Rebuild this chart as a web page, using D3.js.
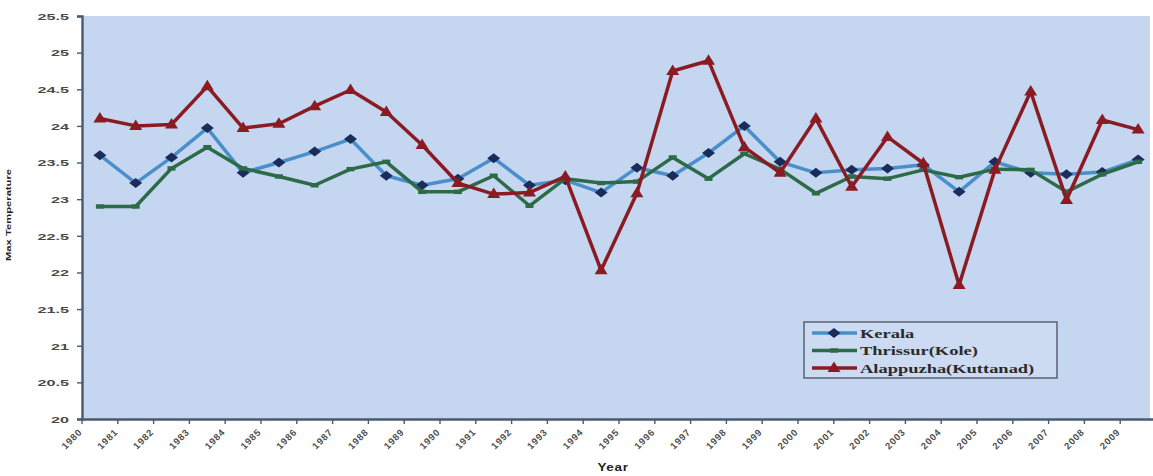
<!DOCTYPE html>
<html>
<head>
<meta charset="utf-8">
<script src="https://cdn.jsdelivr.net/npm/d3@7"></script>
<style>
  html, body { margin: 0; padding: 0; background: #ffffff; }
  svg { display: block; }
</style>
</head>
<body>
<svg id="chart" width="1153" height="476"></svg>
<script>
// Annual maximum temperature, 1980-2009
const years = d3.range(1980, 2010);
const kerala = [23.60, 23.22, 23.57, 23.97, 23.36, 23.50, 23.65, 23.82, 23.32, 23.19,
                23.28, 23.56, 23.19, 23.26, 23.09, 23.43, 23.32, 23.63, 24.00, 23.51,
                23.36, 23.40, 23.42, 23.47, 23.10, 23.51, 23.36, 23.34, 23.37, 23.54];
const thrissur = [22.90, 22.90, 23.42, 23.71, 23.42, 23.31, 23.19, 23.41, 23.51, 23.10,
                  23.10, 23.32, 22.91, 23.28, 23.22, 23.24, 23.57, 23.28, 23.62, 23.41,
                  23.08, 23.31, 23.28, 23.40, 23.30, 23.41, 23.40, 23.10, 23.34, 23.51];
const alappuzha = [24.10, 24.00, 24.02, 24.54, 23.97, 24.03, 24.27, 24.49, 24.19, 23.74,
                   23.22, 23.07, 23.09, 23.31, 22.03, 23.08, 24.75, 24.89, 23.71, 23.36,
                   24.10, 23.17, 23.85, 23.49, 21.83, 23.40, 24.47, 22.99, 24.08, 23.95];
const seriesNames = ["Kerala", "Thrissur(Kole)", "Alappuzha(Kuttanad)"];
const yTicks = d3.range(20, 25.51, 0.5);

const seriesValues = [kerala, thrissur, alappuzha];
const lineColors = ["#4b8fca", "#2d6a48", "#8a1b22"];
const markerColors = ["#1a2c5a", "#2d6a48", "#8a1b22"];
const markerShapes = ["diamond", "square", "triangle"];

const svg = d3.select("#chart");
const W = 1153, H = 476;
const plot = { left: 82, right: 1156, top: 16, bottom: 419 };

const x = d3.scaleBand().domain(years).range([plot.left, plot.right]);
const y = d3.scaleLinear().domain([20, 25.5]).range([plot.bottom, plot.top]);

// plot area background
svg.append("rect")
  .attr("x", plot.left).attr("y", plot.top)
  .attr("width", W - plot.left - 3).attr("height", plot.bottom - plot.top)
  .attr("fill", "#c5d6f0");

// y axis
const yAxis = svg.append("g")
  .attr("transform", `translate(${plot.left},0)`)
  .call(d3.axisLeft(y).tickValues(yTicks).tickSize(5).tickFormat(d => String(d)));
yAxis.select(".domain").attr("stroke", "#4a5a6e").attr("stroke-width", 2.4);
yAxis.selectAll(".tick line").attr("stroke", "#4a5a6e").attr("stroke-width", 1.4);
yAxis.selectAll(".tick text")
  .attr("x", 0).attr("dy", "0.35em")
  .attr("transform", "translate(-13,0) scale(1.7,1)")
  .attr("text-anchor", "end")
  .attr("font-family", "Liberation Sans, Arial, sans-serif")
  .attr("font-weight", "bold")
  .attr("font-size", "9.5px")
  .attr("fill", "#4a4a4a");

// x axis line and ticks on band boundaries
const xAxis = svg.append("g")
  .attr("transform", `translate(0,${plot.bottom})`)
  .call(d3.axisBottom(x).tickSize(0).tickFormat(""));
xAxis.select(".domain").attr("stroke", "#4a5a6e").attr("stroke-width", 2.4);
svg.append("g").selectAll("line")
  .data(years)
  .join("line")
  .attr("x1", d => x(d)).attr("x2", d => x(d))
  .attr("y1", plot.bottom).attr("y2", plot.bottom + 5)
  .attr("stroke", "#4a5a6e").attr("stroke-width", 1.4);

// slanted year labels
const labelG = svg.append("g");
years.forEach(yr => {
  labelG.append("g")
    .attr("transform", `translate(${x(yr) - 4},${plot.bottom + 9})`)
    .append("text")
    .attr("transform", "rotate(-45)")
    .attr("text-anchor", "end")
    .attr("dy", "0.7em")
    .attr("font-family", "Liberation Sans, Arial, sans-serif")
    .attr("font-weight", "bold")
    .attr("font-size", "9.5px")
    .attr("letter-spacing", "0.8px")
    .attr("fill", "#505050")
    .text(yr);
});

// axis titles
svg.append("text")
  .attr("transform", `translate(613,471) scale(1.35,1)`)
  .attr("text-anchor", "middle")
  .attr("font-family", "Liberation Sans, Arial, sans-serif")
  .attr("font-weight", "bold")
  .attr("font-size", "10px")
  .attr("letter-spacing", "0.5px")
  .attr("fill", "#222")
  .text("Year");
svg.append("text")
  .attr("transform", `translate(11,215) rotate(-90) scale(1.5,1)`)
  .attr("text-anchor", "middle")
  .attr("font-family", "Liberation Sans, Arial, sans-serif")
  .attr("font-weight", "bold")
  .attr("font-size", "7.5px")
  .attr("fill", "#222")
  .text("Max Temperature");

// marker paths
function markerPath(shape) {
  if (shape === "diamond") return "M0,-5 L6.5,0 L0,5 L-6.5,0 Z";
  if (shape === "square") return "M-4,-2.2 L4,-2.2 L4,2.2 L-4,2.2 Z";
  return "M0,-6.5 L6.5,4 L-6.5,4 Z";
}

const line = d3.line()
  .x((d, i) => x(years[i]) + x.bandwidth() / 2)
  .y(d => y(d));

const seriesG = svg.append("g");
seriesValues.forEach((vals, s) => {
  const g = seriesG.append("g");
  g.append("path")
    .datum(vals)
    .attr("d", line)
    .attr("fill", "none")
    .attr("stroke", lineColors[s])
    .attr("stroke-width", 3.5)
    .attr("stroke-linejoin", "round");
  g.selectAll("path.mk")
    .data(vals)
    .join("path")
    .attr("class", "mk")
    .attr("d", markerPath(markerShapes[s]))
    .attr("transform", (d, i) => `translate(${x(years[i]) + x.bandwidth() / 2},${y(d)})`)
    .attr("fill", markerColors[s]);
});

// legend
const lg = svg.append("g").attr("transform", "translate(804,322)");
lg.append("rect")
  .attr("width", 253).attr("height", 56)
  .attr("fill", "#ccdbf2")
  .attr("stroke", "#5a6270").attr("stroke-width", 1.5);
seriesNames.forEach((name, s) => {
  const ry = 11 + s * 17.5;
  lg.append("line")
    .attr("x1", 8).attr("x2", 53).attr("y1", ry).attr("y2", ry)
    .attr("stroke", lineColors[s]).attr("stroke-width", 3.5);
  lg.append("path")
    .attr("d", markerPath(markerShapes[s]))
    .attr("transform", `translate(30,${ry})`)
    .attr("fill", markerColors[s]);
  lg.append("text")
    .attr("transform", `translate(56,${ry + 4.5}) scale(1.42,1)`)
    .attr("font-family", "Liberation Serif, Times New Roman, serif")
    .attr("font-weight", "bold")
    .attr("font-size", "13px")
    .attr("fill", "#2a2a2a")
    .text(name);
});
</script>
</body>
</html>
